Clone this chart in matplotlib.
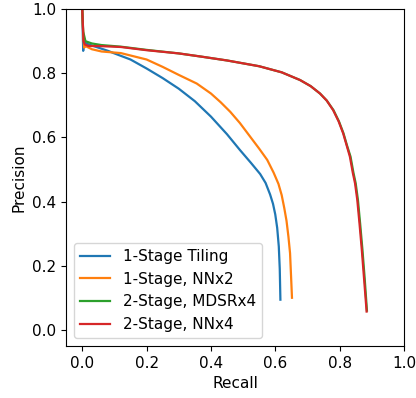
import matplotlib
matplotlib.use('Agg')
import matplotlib.pyplot as plt

# precision / recall
tiling_recall = [0.0, 0.003, 0.005, 0.01, 0.02, 0.05, 0.08, 0.10, 0.15, 0.20, 0.25,
                 0.30, 0.35, 0.40, 0.45, 0.49, 0.525, 0.553, 0.57, 0.584, 0.593,
                 0.60, 0.606, 0.611, 0.614, 0.616]
tiling_prec = [1.0, 0.87, 0.90, 0.895, 0.89, 0.88, 0.87, 0.862, 0.843, 0.815, 0.785,
               0.752, 0.713, 0.665, 0.61, 0.561, 0.52, 0.486, 0.458, 0.422, 0.393,
               0.36, 0.318, 0.26, 0.19, 0.094]

nn2_recall = [0.0, 0.003, 0.006, 0.01, 0.03, 0.06, 0.12, 0.20, 0.25, 0.30, 0.356,
              0.40, 0.43, 0.46, 0.49, 0.52, 0.55, 0.575, 0.595, 0.61, 0.62, 0.628,
              0.635, 0.641, 0.646, 0.649, 0.652]
nn2_prec = [1.0, 0.92, 0.88, 0.885, 0.875, 0.868, 0.863, 0.843, 0.82, 0.795, 0.768,
            0.737, 0.71, 0.68, 0.645, 0.605, 0.565, 0.53, 0.49, 0.455, 0.42, 0.38,
            0.34, 0.29, 0.239, 0.17, 0.1]

mdsr4_recall = [0.0, 0.003, 0.01, 0.03, 0.06, 0.12, 0.20, 0.30, 0.37, 0.45, 0.55,
                0.62, 0.677, 0.71, 0.739, 0.76, 0.781, 0.798, 0.812, 0.823, 0.834,
                0.843, 0.85, 0.857, 0.864, 0.871, 0.878, 0.885]
mdsr4_prec = [1.0, 0.93, 0.90, 0.893, 0.888, 0.883, 0.873, 0.862, 0.852, 0.84, 0.822,
              0.803, 0.779, 0.76, 0.737, 0.715, 0.685, 0.65, 0.613, 0.575, 0.54,
              0.49, 0.457, 0.405, 0.33, 0.25, 0.16, 0.06]

nn4_recall = [0.0, 0.004, 0.008, 0.02, 0.05, 0.12, 0.20, 0.30, 0.37, 0.45, 0.55, 0.62,
              0.677, 0.71, 0.739, 0.76, 0.78, 0.797, 0.811, 0.822, 0.832, 0.841, 0.848,
              0.855, 0.862, 0.869, 0.876, 0.884]
nn4_prec = [1.0, 0.90, 0.89, 0.885, 0.885, 0.882, 0.872, 0.862, 0.852, 0.84, 0.822, 0.803,
            0.779, 0.76, 0.737, 0.715, 0.685, 0.65, 0.613, 0.575, 0.54, 0.49, 0.457,
            0.405, 0.33, 0.25, 0.16, 0.057]

fig = plt.figure(figsize=(4.16, 3.98), dpi=100)
ax = fig.add_axes([0.159, 0.131, 0.812, 0.846])

ax.plot(tiling_recall, tiling_prec, color='tab:blue', lw=1.6, label='1-Stage Tiling')
ax.plot(nn2_recall, nn2_prec, color='tab:orange', lw=1.6, label='1-Stage, NNx2')
ax.plot(mdsr4_recall, mdsr4_prec, color='tab:green', lw=1.6, label='2-Stage, MDSRx4')
ax.plot(nn4_recall, nn4_prec, color='tab:red', lw=1.6, label='2-Stage, NNx4')

ax.set_xlim(-0.05, 1.0)
ax.set_ylim(-0.05, 1.0)
ax.set_xticks([0.0, 0.2, 0.4, 0.6, 0.8, 1.0])
ax.set_yticks([0.0, 0.2, 0.4, 0.6, 0.8, 1.0])
ax.tick_params(labelsize=11)
ax.set_xlabel('Recall', fontsize=11)
ax.set_ylabel('Precision', fontsize=11)
ax.legend(loc='lower left', fontsize=11)

fig.savefig('out.png', dpi=100)
